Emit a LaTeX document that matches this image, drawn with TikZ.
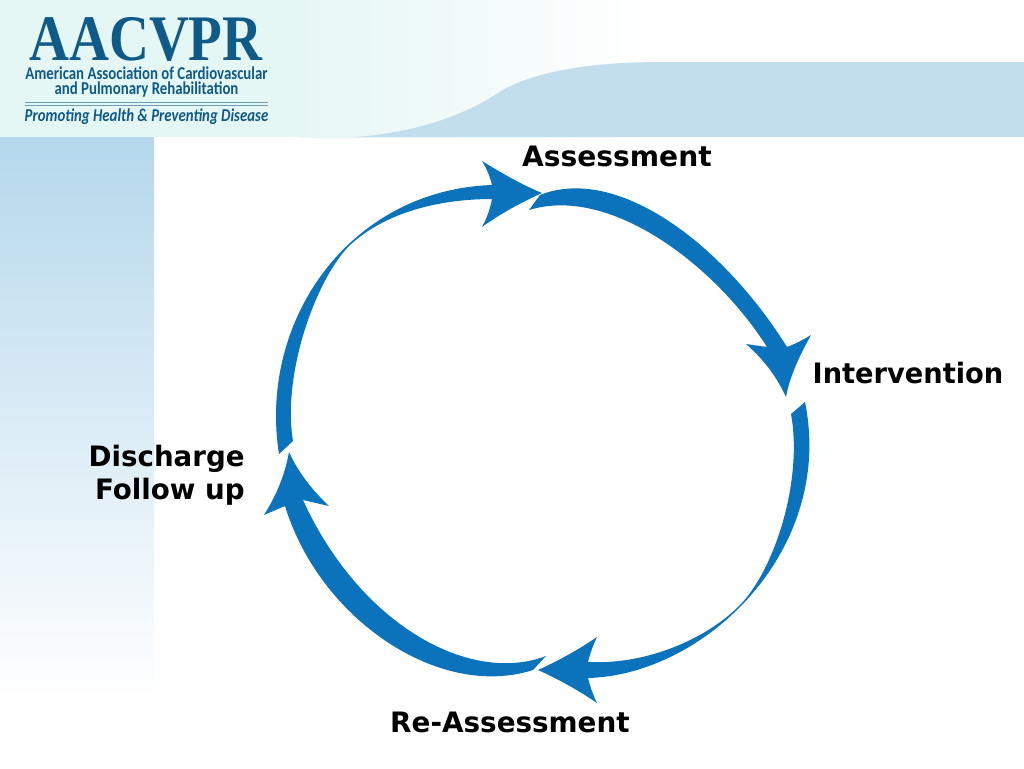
\documentclass[tikz,border=0pt]{standalone}
\usepackage{fontspec}
\setmainfont{DejaVu Sans}
\newfontfamily\logoserif{Liberation Serif}
\newfontfamily\logosans{Carlito}
\usepackage{tikz}
\definecolor{bandblue}{HTML}{C2DEEC}
\definecolor{panelblue}{HTML}{B5D8EC}
\definecolor{paleteal}{HTML}{E5F7F5}
\definecolor{arrowblue}{HTML}{0B72BC}
\definecolor{logoblue}{HTML}{0F5A87}
\tikzset{
  cyclearrow/.style={fill=arrowblue, draw=none},
  steplabel/.style={font=\bfseries\fontsize{16}{18.7}\selectfont, text=black, inner sep=0pt, align=right},
  logoline/.style={text=logoblue, inner sep=0pt, xscale=.82, font=\logosans\bfseries\fontsize{10.3}{12}\selectfont}
}
\begin{document}
\begin{tikzpicture}[x=0.02cm, y=-0.02cm]
    \useasboundingbox (0,0) rectangle (1024,768);
    \fill[paleteal] (0,0) rectangle (300,137);
    \fill[left color=paleteal, right color=white] (300,0) rectangle (640,137);
    \fill[top color=panelblue, bottom color=white] (0,137) rectangle (154,700);
    \fill[bandblue] (355,137) .. controls (410,133) and (460,118) .. (498,93)
        .. controls (530,72) and (590,62) .. (660,62) -- (1024,62) -- (1024,137) -- cycle;
    \node[text=logoblue, inner sep=0pt, xscale=.85, anchor=base, text depth=0pt, font=\logoserif\bfseries\fontsize{37}{37}\selectfont] (logotitle) at (146,60) {AACVPR};
    \node[logoline] (logoname) at (146.5,73) {American Association of Cardiovascular};
    \node[logoline] (logorehab) at (146.5,90) {and Pulmonary Rehabilitation};
    \node[logoline, font=\logosans\bfseries\itshape\fontsize{10.3}{12}\selectfont] (logomotto) at (146.5,117) {Promoting Health \& Preventing Disease};
    \draw[logoblue!60, line width=.3pt] (25,102.5) -- (268,102.5);
    \draw[logoblue!60, line width=.3pt] (25,105) -- (268,105);
    \fill[cyclearrow] (279,454) .. controls (258,320) and (350,190) .. (492,185)
        .. controls (490,177) and (487,169) .. (482,161)
        .. controls (500,172) and (520,184) .. (542,193)
        .. controls (520,203) and (500,214) .. (482,227)
        .. controls (487,218) and (490,209) .. (492,199)
        .. controls (440,199) and (385,212) .. (349,246)
        .. controls (315,281) and (282,375) .. (293,441) -- cycle;
    \fill[cyclearrow] (540,195) .. controls (615,165) and (720,240) .. (787,347)
        .. controls (795,344) and (803,340) .. (811,335)
        .. controls (800,355) and (790,375) .. (786,397)
        .. controls (776,375) and (762,358) .. (746,344)
        .. controls (753,345) and (760,346) .. (767,347)
        .. controls (715,265) and (610,185) .. (529,210) -- cycle;
    \fill[cyclearrow] (805,402) .. controls (835,550) and (705,675) .. (588,678)
        .. controls (590,686) and (593,695) .. (597,703)
        .. controls (578,690) and (558,679) .. (538,670)
        .. controls (558,661) and (578,650) .. (597,637)
        .. controls (593,645) and (590,654) .. (588,662)
        .. controls (645,665) and (705,640) .. (739,606)
        .. controls (775,570) and (803,480) .. (791,414) -- cycle;
    \fill[cyclearrow] (546,656) .. controls (470,685) and (360,625) .. (303,500)
        .. controls (312,502) and (320,504) .. (329,506)
        .. controls (312,490) and (298,472) .. (289,452)
        .. controls (285,475) and (276,496) .. (264,515)
        .. controls (271,512) and (278,509) .. (285,506)
        .. controls (320,620) and (440,700) .. (533,670) -- cycle;
    \node[steplabel] (assessment) at (617,156) {Assessment};
    \node[steplabel, xscale=.97] (intervention) at (908,373) {Intervention};
    \node[steplabel, xscale=.985, anchor=east] (discharge) at (245,475) {Discharge\\Follow up};
    \node[steplabel, xscale=.99] (reassessment) at (510,722) {Re-Assessment};
\end{tikzpicture}
\end{document}
